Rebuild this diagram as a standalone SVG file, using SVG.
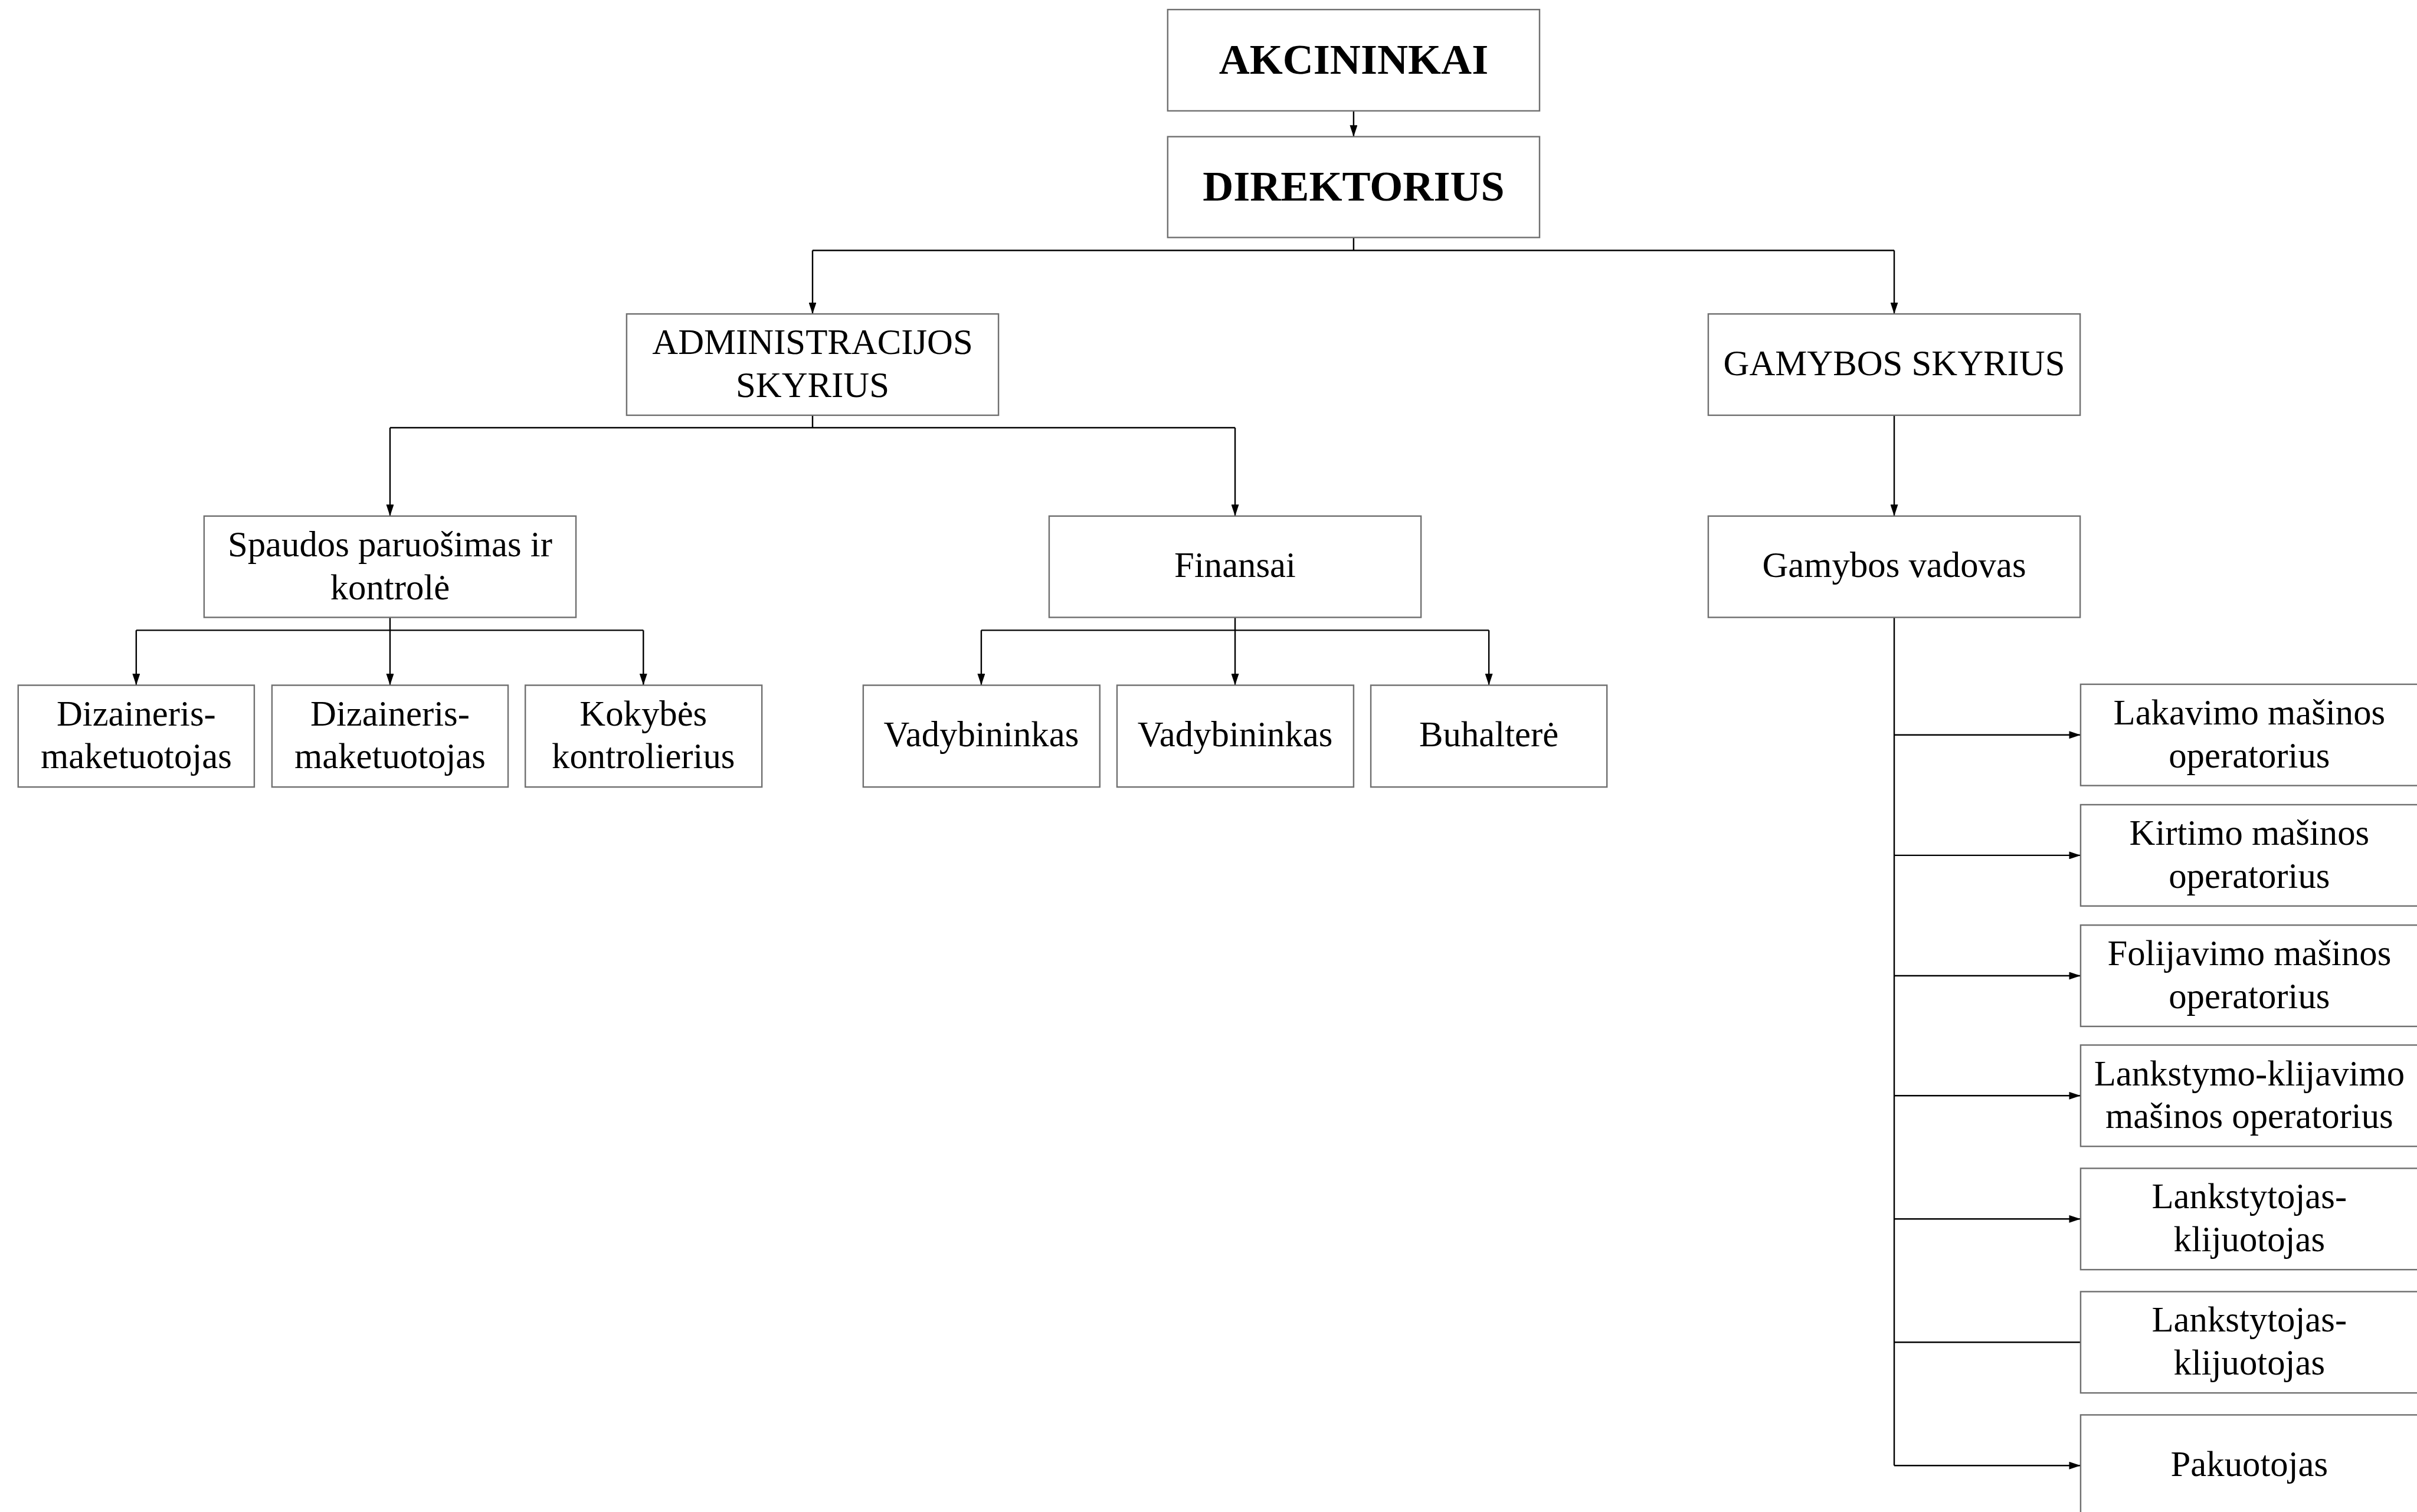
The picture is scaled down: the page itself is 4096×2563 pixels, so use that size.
<svg xmlns="http://www.w3.org/2000/svg" width="4096" height="2563" viewBox="0 0 4096 2563">
  <style>
    .box { fill: #ffffff; stroke: #707070; stroke-width: 3; }
    .lbl { font-family: "Liberation Serif", "Times New Roman", serif; font-size: 75px; fill: #000; text-anchor: middle; }
    .big { font-family: "Liberation Serif", "Times New Roman", serif; font-size: 89px; font-weight: bold; fill: #000; text-anchor: middle; }
    .wire { fill: none; stroke: #000; stroke-width: 3; }
    .arrow { fill: none; stroke: #000; stroke-width: 3; marker-end: url(#head); }
  </style>
  <defs>
    <marker id="head" viewBox="0 0 24 16" refX="24" refY="8" markerWidth="24" markerHeight="16" markerUnits="userSpaceOnUse" orient="auto">
      <path d="M0,0 L24,8 L0,16 Z" fill="#000"/>
    </marker>
  </defs>
  <rect width="4096" height="2563" fill="#ffffff"/>
  <g transform="scale(0.81)">
    <g id="connectors">
      <path class="arrow" d="M2832,232 V286"/>
      <path class="wire" d="M2832,497 V524 M1700,524 H3963"/>
      <path class="arrow" d="M1700,524 V657"/>
      <path class="arrow" d="M3963,524 V657"/>
      <path class="wire" d="M1700,869 V895 M816,895 H2584"/>
      <path class="arrow" d="M816,895 V1080"/>
      <path class="arrow" d="M2584,895 V1080"/>
      <path class="arrow" d="M3963,869 V1080"/>
      <path class="wire" d="M816,1292 V1319 M285,1319 H1346"/>
      <path class="arrow" d="M285,1319 V1434"/>
      <path class="arrow" d="M816,1319 V1434"/>
      <path class="arrow" d="M1346,1319 V1434"/>
      <path class="wire" d="M2584,1292 V1319 M2053,1319 H3115"/>
      <path class="arrow" d="M2053,1319 V1434"/>
      <path class="arrow" d="M2584,1319 V1434"/>
      <path class="arrow" d="M3115,1319 V1434"/>
      <path class="wire" d="M3963,1292 V3067"/>
      <path class="arrow" d="M3963,1538 H4353"/>
      <path class="arrow" d="M3963,1790 H4353"/>
      <path class="arrow" d="M3963,2042 H4353"/>
      <path class="arrow" d="M3963,2293 H4353"/>
      <path class="arrow" d="M3963,2551 H4353"/>
      <path class="wire" d="M3963,2809 H4353"/>
      <path class="arrow" d="M3963,3067 H4353"/>
    </g>

    <g id="akcininkai">
      <rect class="box" x="2443" y="20" width="778" height="212"/>
      <text class="big" x="2832" y="154">AKCININKAI</text>
    </g>
    <g id="direktorius">
      <rect class="box" x="2443" y="286" width="778" height="211"/>
      <text class="big" x="2832" y="420">DIREKTORIUS</text>
    </g>

    <g id="administracijos-skyrius">
      <rect class="box" x="1311" y="657" width="778" height="212"/>
      <text class="lbl" x="1700" y="741">ADMINISTRACIJOS</text>
      <text class="lbl" x="1700" y="831">SKYRIUS</text>
    </g>
    <g id="gamybos-skyrius">
      <rect class="box" x="3574" y="657" width="778" height="212"/>
      <text class="lbl" x="3963" y="785">GAMYBOS SKYRIUS</text>
    </g>

    <g id="spaudos-paruosimas">
      <rect class="box" x="427" y="1080" width="778" height="212"/>
      <text class="lbl" x="816" y="1164">Spaudos paruošimas ir</text>
      <text class="lbl" x="816" y="1254">kontrolė</text>
    </g>
    <g id="finansai">
      <rect class="box" x="2195" y="1080" width="778" height="212"/>
      <text class="lbl" x="2584" y="1208">Finansai</text>
    </g>
    <g id="gamybos-vadovas">
      <rect class="box" x="3574" y="1080" width="778" height="212"/>
      <text class="lbl" x="3963" y="1208">Gamybos vadovas</text>
    </g>

    <g id="dizaineris-1">
      <rect class="box" x="38" y="1434" width="494" height="213"/>
      <text class="lbl" x="285" y="1518">Dizaineris-</text>
      <text class="lbl" x="285" y="1608">maketuotojas</text>
    </g>
    <g id="dizaineris-2">
      <rect class="box" x="569" y="1434" width="494" height="213"/>
      <text class="lbl" x="816" y="1518">Dizaineris-</text>
      <text class="lbl" x="816" y="1608">maketuotojas</text>
    </g>
    <g id="kokybes-kontrolierius">
      <rect class="box" x="1099" y="1434" width="495" height="213"/>
      <text class="lbl" x="1346" y="1518">Kokybės</text>
      <text class="lbl" x="1346" y="1608">kontrolierius</text>
    </g>

    <g id="vadybininkas-1">
      <rect class="box" x="1806" y="1434" width="495" height="213"/>
      <text class="lbl" x="2053" y="1562">Vadybininkas</text>
    </g>
    <g id="vadybininkas-2">
      <rect class="box" x="2337" y="1434" width="495" height="213"/>
      <text class="lbl" x="2584" y="1562">Vadybininkas</text>
    </g>
    <g id="buhaltere">
      <rect class="box" x="2868" y="1434" width="494" height="213"/>
      <text class="lbl" x="3115" y="1562">Buhalterė</text>
    </g>

    <g id="lakavimo-operatorius">
      <rect class="box" x="4353" y="1432" width="720" height="212"/>
      <text class="lbl" x="4706" y="1516">Lakavimo mašinos</text>
      <text class="lbl" x="4706" y="1606">operatorius</text>
    </g>
    <g id="kirtimo-operatorius">
      <rect class="box" x="4353" y="1684" width="720" height="212"/>
      <text class="lbl" x="4706" y="1768">Kirtimo mašinos</text>
      <text class="lbl" x="4706" y="1858">operatorius</text>
    </g>
    <g id="folijavimo-operatorius">
      <rect class="box" x="4353" y="1936" width="720" height="212"/>
      <text class="lbl" x="4706" y="2020">Folijavimo mašinos</text>
      <text class="lbl" x="4706" y="2110">operatorius</text>
    </g>
    <g id="lankstymo-klijavimo-operatorius">
      <rect class="box" x="4353" y="2187" width="720" height="212"/>
      <text class="lbl" x="4706" y="2271">Lankstymo-klijavimo</text>
      <text class="lbl" x="4706" y="2361">mašinos operatorius</text>
    </g>
    <g id="lankstytojas-1">
      <rect class="box" x="4353" y="2445" width="720" height="212"/>
      <text class="lbl" x="4706" y="2529">Lankstytojas-</text>
      <text class="lbl" x="4706" y="2619">klijuotojas</text>
    </g>
    <g id="lankstytojas-2">
      <rect class="box" x="4353" y="2703" width="720" height="212"/>
      <text class="lbl" x="4706" y="2787">Lankstytojas-</text>
      <text class="lbl" x="4706" y="2877">klijuotojas</text>
    </g>
    <g id="pakuotojas">
      <rect class="box" x="4353" y="2961" width="720" height="212"/>
      <text class="lbl" x="4706" y="3089">Pakuotojas</text>
    </g>
  </g>
</svg>
